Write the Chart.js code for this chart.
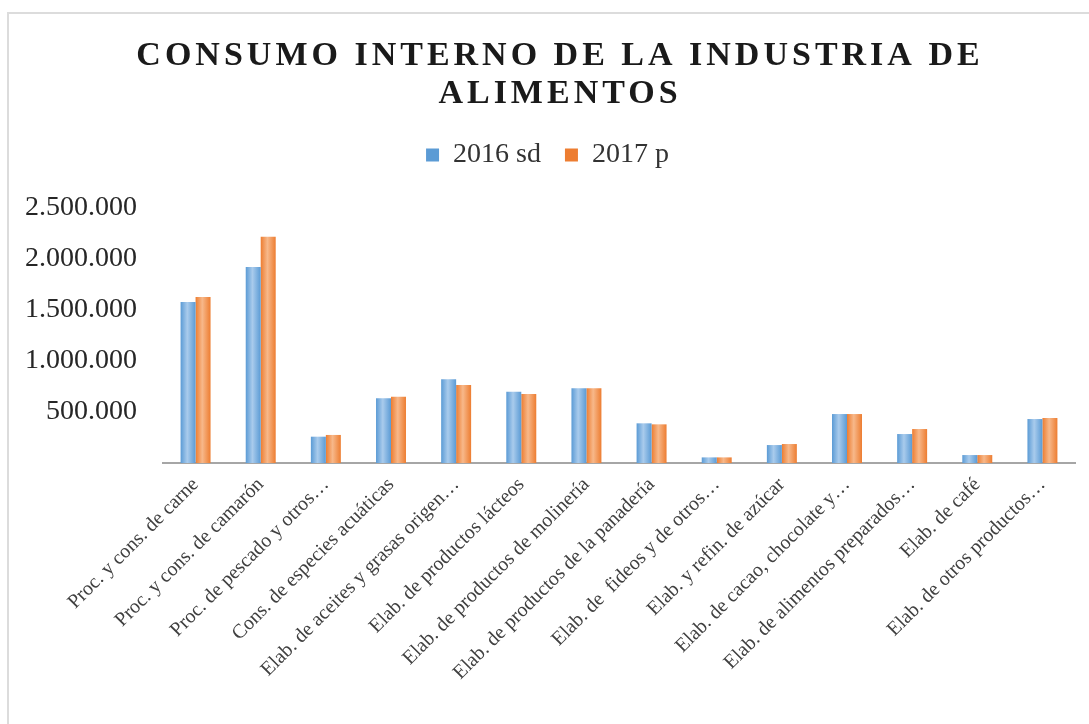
<!DOCTYPE html>
<html lang="es">
<head>
<meta charset="utf-8">
<title>Consumo interno de la industria de alimentos</title>
<script src="https://cdn.jsdelivr.net/npm/chart.js@4.4.1/dist/chart.umd.min.js"></script>
<style>
  html, body { margin: 0; padding: 0; background: #fff; overflow: hidden; }
  #marco {
    position: absolute; left: 7px; top: 12px; width: 1100px; height: 730px;
    border-top: 2px solid #dcdcdc; border-left: 2px solid #dcdcdc;
  }
  #contenedor { position: absolute; left: 0; top: 0; width: 1089px; height: 724px; }
</style>
</head>
<body>
<div id="marco"></div>
<div id="contenedor"><canvas id="consumoChart"></canvas></div>
<script>
const tituloLineas = ["CONSUMO INTERNO DE LA INDUSTRIA DE", "ALIMENTOS"];

const categorias = [
  "Proc. y cons. de carne",
  "Proc. y cons. de camarón",
  "Proc. de pescado y otros…",
  "Cons. de especies acuáticas",
  "Elab. de aceites y grasas origen…",
  "Elab. de productos lácteos",
  "Elab. de productos de molinería",
  "Elab. de productos de la panadería",
  "Elab. de  fideos y de otros…",
  "Elab. y refin. de azúcar",
  "Elab. de cacao, chocolate y…",
  "Elab. de alimentos preparados…",
  "Elab. de café",
  "Elab. de otros productos…"
];

const series = ["2016 sd", "2017 p"];

const valores2016 = [1578000, 1922000, 258000, 634000, 820000, 699000, 732000, 389000, 55000, 176000, 480000, 284000, 78000, 431000];
const valores2017 = [1627000, 2218000, 275000, 650000, 765000, 676000, 732000, 379000, 55000, 186000, 480000, 333000, 78000, 441000];

const ticksY = [0, 500000, 1000000, 1500000, 2000000, 2500000];

const FUENTE = "'Liberation Serif', 'Times New Roman', serif";
const ANCHO_CATEGORIA = 0.46;
const MARGEN_IZQ = 20;

// separador de miles con punto: 2500000 -> 2.500.000
function formatoMiles(n) {
  return String(n).replace(/\B(?=(\d{3})+(?!\d))/g, ".");
}

// degradado horizontal tipo Excel (bordes oscuros, centro claro)
function colorBarra(base, claro, lado) {
  return (context) => {
    const chart = context.chart;
    const area = chart.chartArea;
    if (!area || context.type !== "data" || !chart.scales.x) return base;
    const centro = chart.scales.x.getPixelForValue(context.dataIndex);
    const ancho = (area.right - area.left) / categorias.length * ANCHO_CATEGORIA / 2;
    const x0 = lado < 0 ? centro - ancho : centro;
    const g = chart.ctx.createLinearGradient(x0, 0, x0 + ancho, 0);
    g.addColorStop(0, base);
    g.addColorStop(0.45, claro);
    g.addColorStop(1, base);
    return g;
  };
}

// titulo con espaciado entre letras (el plugin de titulo no lo permite)
const tituloPlugin = {
  id: "tituloEspaciado",
  afterDraw(chart) {
    const ctx = chart.ctx;
    ctx.save();
    ctx.font = "bold 34px " + FUENTE;
    ctx.letterSpacing = "4px";
    ctx.fillStyle = "#1a1a1a";
    ctx.textAlign = "center";
    ctx.textBaseline = "middle";
    tituloLineas.forEach((linea, i) => {
      ctx.fillText(linea, 560, 56 + i * 38);
    });
    ctx.restore();
  }
};

const ctx = document.getElementById("consumoChart").getContext("2d");

new Chart(ctx, {
  type: "bar",
  data: {
    labels: categorias,
    datasets: [
      {
        label: series[0],
        data: valores2016,
        backgroundColor: colorBarra("#5b9bd5", "#a9cbec", -1),
        borderWidth: 0
      },
      {
        label: series[1],
        data: valores2017,
        backgroundColor: colorBarra("#ed7d31", "#f7b88a", 1),
        borderWidth: 0
      }
    ]
  },
  options: {
    responsive: true,
    maintainAspectRatio: false,
    animation: false,
    datasets: {
      bar: { categoryPercentage: ANCHO_CATEGORIA, barPercentage: 1 }
    },
    layout: {
      padding: { top: 117, left: MARGEN_IZQ, right: 14, bottom: 0 }
    },
    plugins: {
      tooltip: { enabled: false },
      title: { display: false },
      subtitle: {
        // espacio entre la leyenda y el area del grafico
        display: true,
        text: "",
        position: "top",
        weight: 500,
        font: { size: 10, lineHeight: 1 },
        padding: { top: 0, bottom: 19 }
      },
      legend: {
        position: "top",
        labels: {
          font: { family: FUENTE, size: 28 },
          color: "#333333",
          boxWidth: 13,
          boxHeight: 13,
          padding: 24,
          generateLabels: (chart) => series.map((nombre, i) => ({
            text: nombre,
            fillStyle: i === 0 ? "#5b9bd5" : "#ed7d31",
            strokeStyle: "rgba(0,0,0,0)",
            lineWidth: 0,
            fontColor: "#333333",
            datasetIndex: i,
            hidden: false
          }))
        }
      }
    },
    scales: {
      x: {
        grid: { display: false },
        border: { display: true, color: "#a6a6a6", width: 2 },
        ticks: {
          autoSkip: false,
          minRotation: 45,
          maxRotation: 45,
          padding: 2,
          color: "#404040",
          font: { family: FUENTE, size: 20 }
        },
        afterFit: (scale) => { scale.height = 724 - 463; }
      },
      y: {
        min: 0,
        max: 2500000,
        grid: { display: false },
        border: { display: false },
        afterBuildTicks: (scale) => {
          scale.ticks = ticksY.map(v => ({ value: v }));
        },
        ticks: {
          padding: 18,
          color: "#262626",
          font: { family: FUENTE, size: 28 },
          callback: (v) => v === 0 ? "" : formatoMiles(v)
        },
        afterFit: (scale) => { scale.width = 163 - MARGEN_IZQ; }
      }
    }
  },
  plugins: [tituloPlugin]
});
</script>
</body>
</html>
